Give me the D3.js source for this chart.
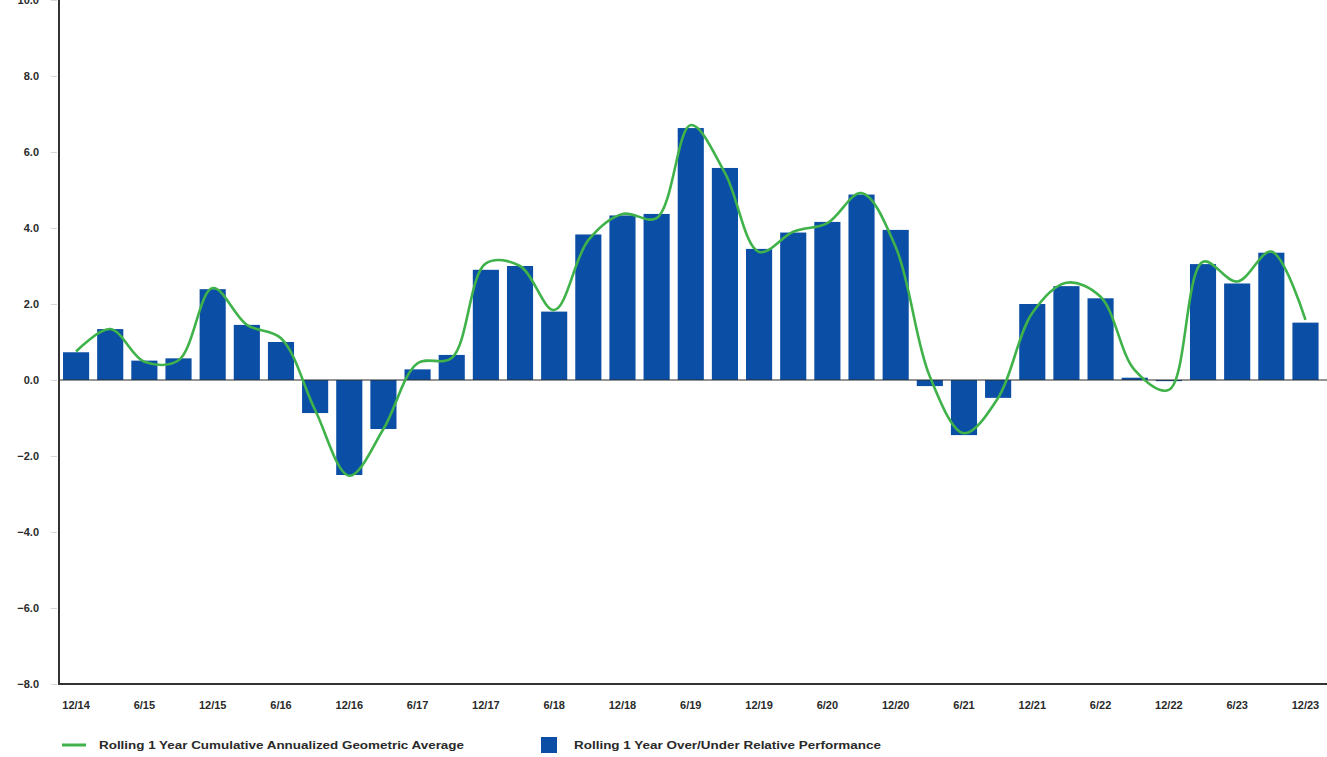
<!DOCTYPE html>
<html>
<head>
<meta charset="utf-8">
<script src="https://cdn.jsdelivr.net/npm/d3@7"></script>
<style>
  html, body { margin: 0; padding: 0; background: #fff; }
  svg { display: block; }
  text { font-family: "Liberation Sans Narrow", "Arial Narrow", "Liberation Sans", Arial, sans-serif; }
</style>
</head>
<body>
<svg id="chart" width="1327" height="757"></svg>
<script>
const categories = ["12/14","3/15","6/15","9/15","12/15","3/16","6/16","9/16","12/16","3/17","6/17","9/17",
  "12/17","3/18","6/18","9/18","12/18","3/19","6/19","9/19","12/19","3/20","6/20","9/20",
  "12/20","3/21","6/21","9/21","12/21","3/22","6/22","9/22","12/22","3/23","6/23","9/23","12/23"];

const barValues = [0.73, 1.34, 0.51, 0.57, 2.39, 1.45, 1.0, -0.87, -2.5, -1.29, 0.28, 0.66,
  2.9, 3.0, 1.8, 3.83, 4.33, 4.37, 6.63, 5.58, 3.45, 3.88, 4.16, 4.88,
  3.95, -0.16, -1.45, -0.47, 2.0, 2.47, 2.15, 0.06, -0.03, 3.05, 2.54, 3.35, 1.51];

const lineValues = [0.75, 1.34, 0.48, 0.52, 2.42, 1.45, 1.1, -0.79, -2.52, -1.29, 0.44, 0.58,
  3.07, 3.0, 1.84, 3.68, 4.37, 4.26, 6.71, 5.45, 3.37, 3.9, 4.13, 4.92,
  3.5, 0.09, -1.4, -0.47, 1.76, 2.56, 2.19, 0.26, -0.26, 3.11, 2.59, 3.38, 1.58];

const xTickLabels = ["12/14","6/15","12/15","6/16","12/16","6/17","12/17","6/18","12/18","6/19",
  "12/19","6/20","12/20","6/21","12/21","6/22","12/22","6/23","12/23"];

const yTicks = [10, 8, 6, 4, 2, 0, -2, -4, -6, -8];

const seriesNames = ["Rolling 1 Year Cumulative Annualized Geometric Average",
  "Rolling 1 Year Over/Under Relative Performance"];

const barColor = "#0b4ea6";
const lineColor = "#3fb24a";

const svg = d3.select("#chart");
const plotLeft = 59, plotRight = 59 + 37 * 34.15, plotTop = 0, plotBottom = 684;

const x = d3.scaleBand().domain(categories).range([plotLeft, plotRight])
  .paddingInner(0.235).paddingOuter(0.1175);
const y = d3.scaleLinear().domain([-8, 10]).range([plotBottom, plotTop]);

// y tick labels
const yAxis = d3.axisLeft(y).tickValues(yTicks).tickFormat(d3.format(".1f")).tickSize(6).tickPadding(12);
const gy = svg.append("g").attr("transform", `translate(${plotLeft - 2},0)`).call(yAxis);
gy.select(".domain").remove();
gy.selectAll(".tick line").attr("stroke", "#d8d8d8");
gy.selectAll(".tick text").attr("font-size", 11).attr("fill", "#2a2a2a").attr("font-weight", "bold");

// bars
svg.append("g").selectAll("rect").data(barValues).join("rect")
  .attr("x", (d, i) => x(categories[i]))
  .attr("width", x.bandwidth())
  .attr("y", d => y(Math.max(0, d)))
  .attr("height", d => Math.max(1, Math.abs(y(d) - y(0))))
  .attr("fill", barColor);

// zero line
svg.append("line").attr("x1", plotLeft).attr("x2", 1327).attr("y1", y(0)).attr("y2", y(0))
  .attr("stroke", "#2b2b2b").attr("stroke-width", 1.2);

// smooth line
const line = d3.line()
  .x((d, i) => x(categories[i]) + x.bandwidth() / 2)
  .y(d => y(d))
  .curve(d3.curveCatmullRom.alpha(0.5));
svg.append("path").datum(lineValues).attr("d", line)
  .attr("fill", "none").attr("stroke", lineColor).attr("stroke-width", 2.6);

// x axis
const xAxis = d3.axisBottom(x)
  .tickValues(categories.filter(c => xTickLabels.includes(c)))
  .tickSize(0).tickPadding(17);
const gx = svg.append("g").attr("transform", `translate(0,${plotBottom})`).call(xAxis);
gx.select(".domain").remove();
gx.selectAll(".tick text").attr("font-size", 11).attr("fill", "#2a2a2a").attr("font-weight", "bold");

// axis lines
svg.append("line").attr("x1", plotLeft).attr("x2", plotLeft).attr("y1", 0).attr("y2", plotBottom + 1)
  .attr("stroke", "#333").attr("stroke-width", 2);
svg.append("line").attr("x1", plotLeft - 1).attr("x2", 1327).attr("y1", plotBottom).attr("y2", plotBottom)
  .attr("stroke", "#333").attr("stroke-width", 2);

// legend
const lg = svg.append("g");
lg.append("line").attr("x1", 62).attr("x2", 86).attr("y1", 745).attr("y2", 745)
  .attr("stroke", lineColor).attr("stroke-width", 3);
lg.append("text").attr("x", 99).attr("y", 749).attr("font-size", 11).attr("fill", "#2a2a2a")
  .attr("font-weight", "bold")
  .attr("textLength", 365).attr("lengthAdjust", "spacingAndGlyphs").text(seriesNames[0]);
lg.append("rect").attr("x", 541).attr("y", 737).attr("width", 16).attr("height", 16).attr("fill", barColor);
lg.append("text").attr("x", 574).attr("y", 749).attr("font-size", 11).attr("fill", "#2a2a2a")
  .attr("font-weight", "bold")
  .attr("textLength", 307).attr("lengthAdjust", "spacingAndGlyphs").text(seriesNames[1]);
</script>
</body>
</html>
